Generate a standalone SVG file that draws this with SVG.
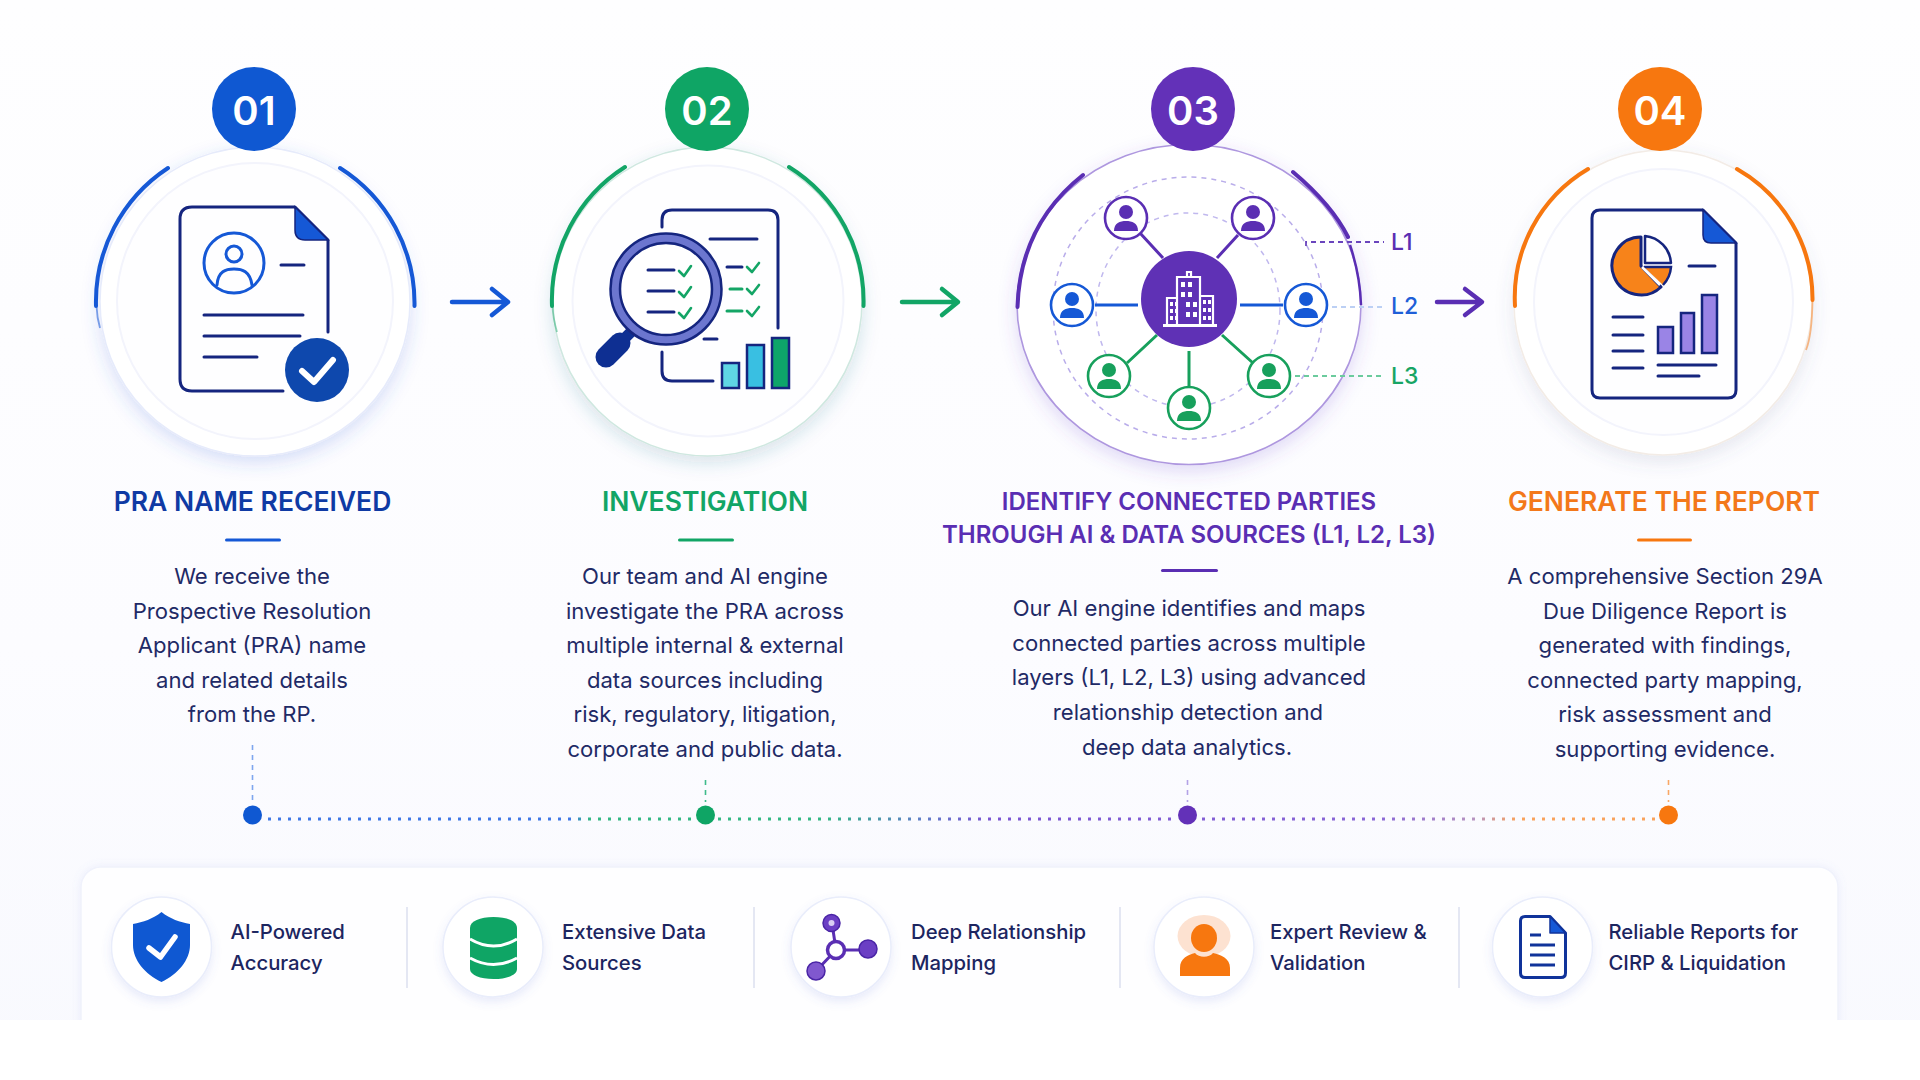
<svg xmlns="http://www.w3.org/2000/svg" xmlns:xlink="http://www.w3.org/1999/xlink" width="1920" height="1080" viewBox="0 0 1920 1080">
<defs>
<linearGradient id="bg" x1="0" y1="0" x2="0" y2="1"><stop offset="0" stop-color="#fefeff"/><stop offset="0.6" stop-color="#fcfcff"/><stop offset="1" stop-color="#f8f9fe"/></linearGradient>
<linearGradient id="dots" gradientUnits="userSpaceOnUse" x1="268" y1="0" x2="1656" y2="0">
<stop offset="0" stop-color="#3f78e6"/><stop offset="0.218" stop-color="#3f78e6"/><stop offset="0.232" stop-color="#33b884"/><stop offset="0.4" stop-color="#33b884"/><stop offset="0.47" stop-color="#5f7fc8"/><stop offset="0.52" stop-color="#7a55d2"/><stop offset="0.8" stop-color="#8a68d6"/><stop offset="0.87" stop-color="#b795c0"/><stop offset="0.9" stop-color="#f9a25c"/><stop offset="1" stop-color="#f9a25c"/>
</linearGradient>
<filter id="sb" x="-20%" y="-20%" width="140%" height="145%"><feDropShadow dx="0" dy="6" stdDeviation="9" flood-color="#3a62d8" flood-opacity="0.2"/></filter>
<filter id="sg" x="-20%" y="-20%" width="140%" height="145%"><feDropShadow dx="0" dy="6" stdDeviation="9" flood-color="#2f6f88" flood-opacity="0.18"/></filter>
<filter id="sp" x="-20%" y="-20%" width="140%" height="145%"><feDropShadow dx="0" dy="6" stdDeviation="9" flood-color="#6a3fd0" flood-opacity="0.2"/></filter>
<filter id="so" x="-20%" y="-20%" width="140%" height="145%"><feDropShadow dx="0" dy="6" stdDeviation="9" flood-color="#555a88" flood-opacity="0.14"/></filter>
<filter id="sc" x="-30%" y="-30%" width="160%" height="170%"><feDropShadow dx="0" dy="4" stdDeviation="5" flood-color="#5a70d8" flood-opacity="0.14"/></filter>
<filter id="sk" x="-3%" y="-10%" width="106%" height="120%"><feDropShadow dx="0" dy="0" stdDeviation="4" flood-color="#7a8ae0" flood-opacity="0.12"/></filter>
<g id="person"><circle cx="0" cy="0" r="21" fill="#fff" stroke="currentColor" stroke-width="2.6"/><circle cx="0" cy="-6" r="7" fill="currentColor"/><path d="M-12 13 C-12 5 -6 3 0 3 C6 3 12 5 12 13 Z" fill="currentColor"/></g>
</defs>
<style>
text{font-family:"Inter","Liberation Sans",sans-serif}
.num{font-size:40px;font-weight:600;fill:#fff;text-anchor:middle}
.ttl{font-size:26.500px;font-weight:600;text-anchor:middle}
.ttl3{font-size:24px;font-weight:600;text-anchor:middle}
.body{font-size:22.100px;font-weight:400;fill:#1f2a66;text-anchor:middle}
.lvl{font-size:23px;font-weight:500}
.feat{font-size:20.300px;font-weight:500;fill:#1c2560}
.nv{fill:none;stroke:#15257f;stroke-width:3;stroke-linecap:round;stroke-linejoin:round}
.bl{fill:none;stroke:#1558d6;stroke-width:3;stroke-linecap:round}
.arc{fill:none;stroke-width:4;stroke-linecap:round}
.ar{fill:none;stroke-width:4.500;stroke-linecap:round;stroke-linejoin:round}
.ck{fill:none;stroke:#14a566;stroke-width:2.600;stroke-linecap:round;stroke-linejoin:round}
.dot{fill:none;stroke:url(#dots);stroke-width:3;stroke-dasharray:3 7}
.vd{fill:none;stroke-width:1.600;stroke-dasharray:5 5}
.disc{fill:#fff}
.inner{fill:#fefeff;stroke:#f3f4fc;stroke-width:2}
.fc{fill:#fff;stroke:#e9edfb;stroke-width:1.500;filter:url(#sc)}
</style>
<rect width="1920" height="1080" fill="url(#bg)"/>

<g id="step-1">
<ellipse cx="255" cy="301.500" rx="155" ry="154.500" class="disc" stroke="#e6ebfb" stroke-width="1.500" filter="url(#sb)"/>
<circle cx="255" cy="301" r="138" class="inner"/>
<path class="arc" stroke="#1558d6" d="M96 306 A160 160 0 0 1 168 168 M340 168 A160 160 0 0 1 414.500 306"/>
<path d="M96.500 306 Q97 318 100 328" fill="none" stroke="#1558d6" stroke-width="1.800" opacity=".55"/>
<circle cx="254" cy="109" r="42" fill="#0f58d2"/>
<text class="num" x="254" y="124.500">01</text>
<path class="nv" d="M283 391 H192 Q180 391 180 379 V219 Q180 207 192 207 H295 L328 240 V332"/>
<path d="M295 207 L328 240 H305 Q295 240 295 230 Z" fill="#1558d6" stroke="#15257f" stroke-width="1.500"/>
<circle class="bl" cx="234" cy="263" r="30"/>
<circle class="bl" cx="234" cy="254" r="8"/>
<path class="bl" d="M217 285 C218 271 226 269 234 269 C242 269 250 271 252 285"/>
<path class="nv" d="M281 265 H304 M204 315 H303 M204 336 H300 M204 357 H257"/>
<circle cx="317" cy="370" r="32" fill="#0e48ad"/>
<path d="M302 371 L314 382 L333 360" fill="none" stroke="#fff" stroke-width="6" stroke-linecap="round" stroke-linejoin="round"/>
<text class="ttl" x="252.500" y="511" fill="#0f3aa4">PRA NAME RECEIVED</text>
<rect x="225" y="538.500" width="56" height="3" rx="1.500" fill="#1558d6"/>
<text class="body" x="252" y="584">We receive the</text>
<text class="body" x="252" y="618.500">Prospective Resolution</text>
<text class="body" x="252" y="653">Applicant (PRA) name</text>
<text class="body" x="252" y="687.500">and related details</text>
<text class="body" x="252" y="722">from the RP.</text>
</g>

<g id="step-2">
<ellipse cx="707.500" cy="301.500" rx="154.500" ry="154.500" class="disc" stroke="#cfe8e0" stroke-width="1.500" filter="url(#sg)"/>
<circle cx="708" cy="301" r="135.500" class="inner"/>
<path class="arc" stroke="#12a566" d="M552 306 A158 158 0 0 1 625 167 M789 167 A158 158 0 0 1 863.500 306"/>
<path d="M552.500 306 Q553 318 557 332" fill="none" stroke="#12a566" stroke-width="1.800" opacity=".45"/>
<circle cx="707" cy="109" r="42" fill="#0fa565"/>
<text class="num" x="707" y="124.500">02</text>
<path class="nv" d="M662 227 V220 Q662 210 672 210 H768 Q778 210 778 220 V328 M662 352 V371 Q662 381 672 381 H713"/>
<path class="nv" d="M710 239 H757 M704 339 H717"/>
<path class="nv" d="M727 267 H742"/><path d="M730 289 H742 M727 311 H742" fill="none" stroke="#14a566" stroke-width="3" stroke-linecap="round"/>
<path class="ck" d="M747 267 L752 272 L759 263 M747 289 L752 294 L759 285 M747 311 L752 316 L759 307"/>
<path d="M632 331 L622 341" stroke="#0e2f92" stroke-width="11"/>
<path d="M620 343 L606 357" stroke="#0e2f92" stroke-width="21" stroke-linecap="round"/>
<circle cx="666" cy="289" r="51" fill="#fff" stroke="#6c76cf" stroke-width="9"/>
<circle cx="666" cy="289" r="55.500" fill="none" stroke="#15257f" stroke-width="2.500"/>
<circle cx="666" cy="289" r="46" fill="none" stroke="#15257f" stroke-width="2.500"/>
<path class="nv" d="M648 270 H674 M648 291 H674 M648 312 H674"/>
<path class="ck" d="M679 271 L684 276 L691 266 M679 292 L684 297 L691 287 M679 313 L684 318 L691 308"/>
<rect x="722" y="363" width="17" height="25" fill="#5fd6e4" stroke="#15257f" stroke-width="2.500"/>
<rect x="747" y="345" width="17" height="43" fill="#39bfe2" stroke="#15257f" stroke-width="2.500"/>
<rect x="772" y="338" width="17" height="50" fill="#0ea56a" stroke="#15257f" stroke-width="2.500"/>
<text class="ttl" x="705" y="511" fill="#12a566">INVESTIGATION</text>
<rect x="678" y="538.500" width="56" height="3" rx="1.500" fill="#12a566"/>
<text class="body" x="705" y="584">Our team and AI engine</text>
<text class="body" x="705" y="618.500">investigate the PRA across</text>
<text class="body" x="705" y="653">multiple internal &amp; external</text>
<text class="body" x="705" y="687.500">data sources including</text>
<text class="body" x="705" y="722">risk, regulatory, litigation,</text>
<text class="body" x="705" y="756.500">corporate and public data.</text>
</g>

<g id="step-3">
<ellipse cx="1189" cy="304.500" rx="172" ry="160" class="disc" stroke="#ae97df" stroke-width="1.600" filter="url(#sp)"/>
<path class="arc" stroke="#5a2eb3" d="M1017.500 307 Q1020 225 1083 175 M1293 172 Q1332 205 1348 237"/>
<path fill="none" stroke="#5a2eb3" stroke-width="2.500" d="M1350 245 Q1360 275 1361 305"/>
<ellipse cx="1188" cy="308" rx="135" ry="131" fill="none" stroke="#b9adea" stroke-width="1.500" stroke-dasharray="5 5"/>
<ellipse cx="1188" cy="310" rx="92" ry="97" fill="none" stroke="#c0b8ee" stroke-width="1.500" stroke-dasharray="5 5"/>
<circle cx="1193" cy="109" r="42" fill="#6331b8"/>
<text class="num" x="1193" y="124.500">03</text>
<path d="M1140 233 L1163 258 M1238 235 L1217 258" stroke="#5a2eb3" stroke-width="3" fill="none"/>
<path d="M1095 305 H1138 M1240 305 H1283" stroke="#1558d6" stroke-width="3" fill="none"/>
<path d="M1127 363 L1157 335 M1189 351 V388 M1222 335 L1253 363" stroke="#17a05c" stroke-width="3" fill="none"/>
<circle cx="1189" cy="299" r="48" fill="#5f31b5"/>
<g fill="none" stroke="#fff" stroke-width="2.200">
<path d="M1177 325 V277 H1200 V325 M1187 277 V272 H1191 V277"/>
<path d="M1167 325 V298 H1177 M1200 296 H1213 V325"/>
<path d="M1163 325.500 H1217" stroke-width="2.800"/>
</g>
<g fill="#fff">
<rect x="1170" y="302" width="3" height="4"/><rect x="1175" y="302" width="3" height="4"/><rect x="1170" y="309" width="3" height="4"/><rect x="1175" y="309" width="3" height="4"/><rect x="1170" y="316" width="3" height="4"/><rect x="1175" y="316" width="3" height="4"/>
<rect x="1181" y="282" width="4" height="5"/><rect x="1188" y="282" width="4" height="5"/><rect x="1181" y="292" width="4" height="5"/><rect x="1188" y="292" width="4" height="5"/><rect x="1186" y="302" width="4" height="5"/><rect x="1193" y="302" width="4" height="5"/><rect x="1186" y="312" width="4" height="5"/><rect x="1193" y="312" width="4" height="5"/>
<rect x="1203" y="300" width="3" height="4"/><rect x="1208" y="300" width="3" height="4"/><rect x="1203" y="308" width="3" height="4"/><rect x="1208" y="308" width="3" height="4"/><rect x="1203" y="316" width="3" height="4"/><rect x="1208" y="316" width="3" height="4"/>
</g>
<use href="#person" x="1126" y="218" color="#5a2eb3"/>
<use href="#person" x="1253" y="218" color="#5a2eb3"/>
<use href="#person" x="1072" y="305" color="#1558d6"/>
<use href="#person" x="1306" y="305" color="#1558d6"/>
<use href="#person" x="1109" y="376" color="#17a05c"/>
<use href="#person" x="1189" y="408" color="#17a05c"/>
<use href="#person" x="1269" y="376" color="#17a05c"/>
<path d="M1306 246 V242 H1384" fill="none" stroke="#6a45bd" stroke-width="1.800" stroke-dasharray="5 4"/>
<path d="M1332 307 H1384" fill="none" stroke="#bcd0f4" stroke-width="1.800" stroke-dasharray="5 4"/>
<path d="M1295 376 H1384" fill="none" stroke="#6bcb9d" stroke-width="1.800" stroke-dasharray="5 4"/>
<text class="lvl" x="1391" y="250" fill="#5a2eb3">L1</text>
<text class="lvl" x="1391" y="314" fill="#1f5fd8">L2</text>
<text class="lvl" x="1391" y="384" fill="#17a565">L3</text>
<text class="ttl3" x="1189" y="510" fill="#5a2eb3">IDENTIFY CONNECTED PARTIES</text>
<text class="ttl3" x="1189" y="543" fill="#5a2eb3">THROUGH AI &amp; DATA SOURCES (L1, L2, L3)</text>
<rect x="1161" y="569" width="57" height="3" rx="1.500" fill="#5a2eb3"/>
<text class="body" x="1189" y="616">Our AI engine identifies and maps</text>
<text class="body" x="1189" y="650.500">connected parties across multiple</text>
<text class="body" x="1189" y="685">layers (L1, L2, L3) using advanced</text>
<text class="body" x="1188" y="719.500">relationship detection and</text>
<text class="body" x="1187" y="754.500">deep data analytics.</text>
</g>

<g id="step-4">
<ellipse cx="1663" cy="302.500" rx="149" ry="152.500" class="disc" stroke="#f3ece6" stroke-width="1.500" filter="url(#so)"/>
<ellipse cx="1663.500" cy="302" rx="129.500" ry="133" class="inner"/>
<path class="arc" stroke="#f7770f" stroke-width="3.500" d="M1515 306 A149.500 149.500 0 0 1 1588 169 M1737 169 A149.500 149.500 0 0 1 1812.500 300"/>
<path d="M1812.500 300 Q1812 335 1806 350" fill="none" stroke="#f7770f" stroke-width="1.800" opacity=".5"/>
<circle cx="1660" cy="109" r="42" fill="#f7770f"/>
<text class="num" x="1660" y="124.500">04</text>
<path class="nv" d="M1703 210 H1600 Q1592 210 1592 218 V390 Q1592 398 1600 398 H1728 Q1736 398 1736 390 V243 L1703 210"/>
<path d="M1703 210 L1736 243 H1711 Q1703 243 1703 235 Z" fill="#1558d6" stroke="#15257f" stroke-width="1.500"/>
<path d="M1641 237 A29 29 0 1 0 1661 287 L1641 266 Z" fill="#f7831a" stroke="#15257f" stroke-width="3" stroke-linejoin="round"/>
<path d="M1644 267 H1671 A29 29 0 0 1 1663 285 Z" fill="#f7831a"/>
<path d="M1644 267 H1671 A29 29 0 0 1 1663 285" fill="none" stroke="#15257f" stroke-width="2.500"/>
<path d="M1645 236 A29 29 0 0 1 1671 263 H1645 Z" fill="#fff" stroke="#15257f" stroke-width="2.500" stroke-linejoin="round"/>
<path d="M1642 267 L1660 285" stroke="#fff" stroke-width="2.500"/>
<path class="nv" d="M1689 266 H1715 M1613 317 H1643 M1613 335 H1643 M1613 351 H1643 M1613 368 H1643 M1658 365 H1716 M1658 376 H1699"/>
<rect x="1658" y="327" width="15" height="26" fill="#9a84e6" stroke="#15257f" stroke-width="2.500"/>
<rect x="1681" y="313" width="13" height="40" fill="#9a84e6" stroke="#15257f" stroke-width="2.500"/>
<rect x="1702" y="295" width="15" height="58" fill="#9a84e6" stroke="#15257f" stroke-width="2.500"/>
<text class="ttl" x="1664" y="511" fill="#f3781a">GENERATE THE REPORT</text>
<rect x="1637" y="538.500" width="55" height="3" rx="1.500" fill="#f7770f"/>
<text class="body" x="1665" y="584">A comprehensive Section 29A</text>
<text class="body" x="1665" y="618.500">Due Diligence Report is</text>
<text class="body" x="1665" y="653">generated with findings,</text>
<text class="body" x="1665" y="687.500">connected party mapping,</text>
<text class="body" x="1665" y="722">risk assessment and</text>
<text class="body" x="1665" y="756.500">supporting evidence.</text>
</g>

<g id="connectors">
<path class="ar" stroke="#1558d6" d="M452 302 H507 M492 289 L508 302 L492 315"/>
<path class="ar" stroke="#12a566" d="M902 302 H957 M942 289 L958 302 L942 315"/>
<path class="ar" stroke="#5a2eb3" d="M1437 302 H1481 M1465 289 L1482 302 L1465 315"/>
<path class="vd" stroke="#7ea6ee" d="M252.500 745 V802"/>
<path class="vd" stroke="#3fbb8b" d="M705.500 780 V802"/>
<path class="vd" stroke="#b3a2e6" d="M1187.500 780 V802"/>
<path class="vd" stroke="#f9a765" d="M1668.500 780 V802"/>
<path class="dot" d="M268 819 H696 M718 819 H1176 M1202 819 H1656"/>
<circle cx="252.500" cy="815" r="9.500" fill="#0f58d2"/>
<circle cx="705.500" cy="815" r="9.500" fill="#0fa565"/>
<circle cx="1187.500" cy="815" r="9.500" fill="#6331b8"/>
<circle cx="1668.500" cy="815" r="9.500" fill="#f7770f"/>
</g>

<g id="features">
<rect x="81" y="867" width="1757" height="190" rx="20" fill="#fefeff" stroke="#f0f2fc" stroke-width="1.500" filter="url(#sk)"/>
<path d="M407 907 V988 M754 907 V988 M1120 907 V988 M1459 907 V988" stroke="#e4e7f3" stroke-width="2"/>
</g>
<g id="feature-1">
<circle class="fc" cx="161.500" cy="947" r="50"/>
<path d="M161.500 912 C170 919 180 922 190 924 V945 C190 960 178 974 161.500 982 C145 974 133 960 133 945 V924 C143 922 153 919 161.500 912 Z" fill="#0f58d2"/>
<path d="M149 948 L160.500 957 L175 937" fill="none" stroke="#fff" stroke-width="5.500" stroke-linecap="round" stroke-linejoin="round"/>
<text class="feat" x="230.500" y="939">AI-Powered</text><text class="feat" x="230.500" y="970">Accuracy</text>
</g>
<g id="feature-2">
<circle class="fc" cx="493" cy="947" r="50"/>
<path d="M470 928 C470 921 480 917 493.500 917 C507 917 517 921 517 928 V969 C517 975 507 979 493.500 979 C480 979 470 975 470 969 Z" fill="#0fa565"/>
<path d="M470 939 Q493.500 953 517 939 M470 958 Q493.500 971 517 958" fill="none" stroke="#fff" stroke-width="3"/>
<text class="feat" x="562" y="939">Extensive Data</text><text class="feat" x="562" y="970">Sources</text>
</g>
<g id="feature-3">
<circle class="fc" cx="841" cy="947" r="50"/>
<path d="M832 923 L836 950 H868 M836 950 L816 971" fill="none" stroke="#5a2eb3" stroke-width="3"/>
<circle cx="831.500" cy="923" r="8.500" fill="#6b3fc4" stroke="#4a25a6" stroke-width="1.500"/><circle cx="831.500" cy="923" r="3" fill="#d9cff3"/>
<circle cx="868" cy="949" r="9" fill="#6b3fc4" stroke="#4a25a6" stroke-width="1.500"/>
<circle cx="816" cy="971" r="9" fill="#8058cf" stroke="#4a25a6" stroke-width="1.500"/>
<circle cx="836" cy="950" r="8.500" fill="#fff" stroke="#5a2eb3" stroke-width="3.500"/>
<text class="feat" x="911" y="939">Deep Relationship</text><text class="feat" x="911" y="970">Mapping</text>
</g>
<g id="feature-4">
<circle class="fc" cx="1204" cy="947" r="50"/>
<ellipse cx="1204" cy="936" rx="26.500" ry="21" fill="#fde2d1"/>
<path d="M1180 976 V968 C1180 958 1188 955 1195 953 C1199 958 1209 958 1213 953 C1221 955 1230 958 1230 968 V976 Z" fill="#f7770f"/>
<ellipse cx="1204" cy="938" rx="13" ry="14" fill="#f7770f"/>
<text class="feat" x="1270" y="939">Expert Review &amp;</text><text class="feat" x="1270" y="970">Validation</text>
</g>
<g id="feature-5">
<circle class="fc" cx="1542.500" cy="947" r="50"/>
<path d="M1550 916.500 H1525 Q1520.500 916.500 1520.500 921 V973 Q1520.500 977.500 1525 977.500 H1561 Q1565.500 977.500 1565.500 973 V933 Z" fill="#fff" stroke="#10339a" stroke-width="3" stroke-linejoin="round"/>
<path d="M1550 916.500 L1565.500 933 H1550 Z" fill="#1558d6" stroke="#10339a" stroke-width="1.500" stroke-linejoin="round"/>
<path d="M1530 935 H1541 M1530 945 H1555 M1530 955 H1555 M1530 965 H1555" stroke="#10339a" stroke-width="3" fill="none"/>
<text class="feat" x="1608.500" y="939">Reliable Reports for</text><text class="feat" x="1608.500" y="970">CIRP &amp; Liquidation</text>
</g>
<rect id="footer-band" x="0" y="1020" width="1920" height="60" fill="#fff"/>
</svg>
